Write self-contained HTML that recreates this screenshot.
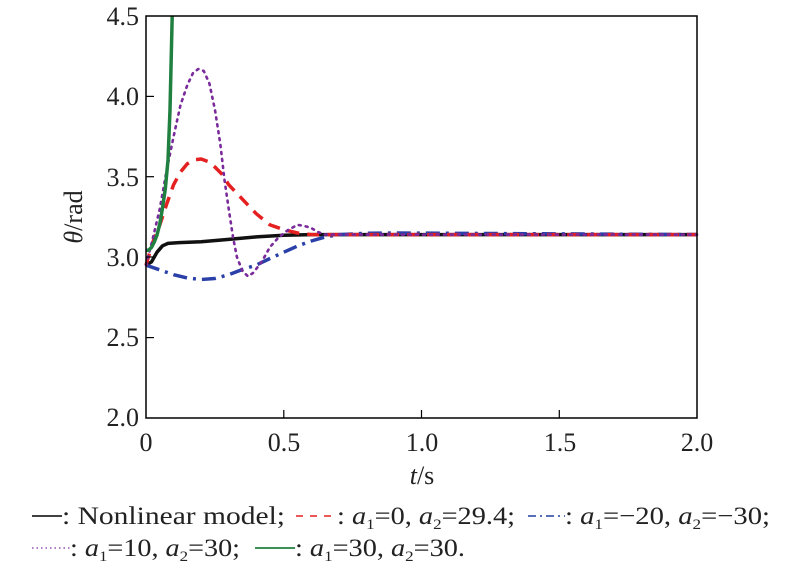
<!DOCTYPE html>
<html><head><meta charset="utf-8"><style>
body{margin:0;background:#fff;}
svg{display:block;font-family:"Liberation Serif",serif;}
</style></head><body>
<svg width="800" height="569" viewBox="0 0 800 569">
<rect width="800" height="569" fill="#fff"/>
<g fill="none" stroke-linejoin="round">
<polyline stroke="#111" stroke-width="3.5" points="146,265.1 151.5,261.9 157,252.2 162.5,245.8 168,243.4 179.1,242.6 201.1,241.8 228.7,239.4 256.2,236.9 283.8,235.3 311.3,234.6 697,234.6"/>
<polyline stroke="#2a40a8" stroke-width="3.5" stroke-dasharray="14,6,3,6" points="146,265.1 159.8,269.9 173.6,274.7 187.3,278 201.1,279.5 214.9,278.5 228.7,274.7 242.4,269.5 256.2,265.1 270,258.5 283.8,252.2 297.5,246 311.3,241 325.1,237 338.9,234.6 366.4,233.3 393.9,233 697,234.6"/>
<polyline stroke="#e52020" stroke-width="3.5" stroke-dasharray="12,8" points="146,265.1 152.9,242 159.8,224.9 166.7,204 173.6,184.7 180.5,172 187.3,163.8 194.2,159.8 201.1,159 208,161.5 214.9,167 221.8,174 228.7,184.7 242.4,199.2 256.2,213.7 270,224.9 283.8,229.7 297.5,233 311.3,234.6 697,234.6"/>
<polyline stroke="#7a2a9a" stroke-width="2.6" stroke-dasharray="2,5" stroke-linecap="round" points="146,265.1 152.9,238 159.8,208.8 166.7,170 173.6,136.5 180.5,105 187.3,85.1 193,73 198.3,69 203.8,71 209.4,83.5 215,110 220.4,144.6 224.5,180 228.7,208.8 233,237 236.9,257 242.4,271 247.9,276.3 253,273 261.7,261.9 270,247 278.2,237.8 288,230 297.5,224.9 304,225.8 311.3,228.1 318,232 325.1,234.6 697,234.6"/>
<polyline stroke="#208040" stroke-width="3.5" points="146,250.6 148.8,250 151.5,247.4 154.3,242 157,235 159.8,224 162.5,208 165.3,189 168,160 170,110 172.2,16"/>
</g>
<rect x="146" y="16" width="551" height="402" fill="none" stroke="#000" stroke-width="1.5"/>
<g stroke="#000" stroke-width="1.2">
<line x1="283.8" y1="418" x2="283.8" y2="410"/><line x1="421.5" y1="418" x2="421.5" y2="410"/><line x1="559.3" y1="418" x2="559.3" y2="410"/>
<line x1="146" y1="96.4" x2="154" y2="96.4"/><line x1="146" y1="176.7" x2="154" y2="176.7"/><line x1="146" y1="257" x2="154" y2="257"/><line x1="146" y1="337.6" x2="154" y2="337.6"/>
</g>
<g font-size="26" fill="#222" text-anchor="end">
<text x="139" y="25">4.5</text><text x="139" y="105">4.0</text><text x="139" y="186">3.5</text><text x="139" y="266">3.0</text><text x="139" y="346">2.5</text><text x="139" y="426">2.0</text>
</g>
<g font-size="26" fill="#222" text-anchor="middle">
<text x="146" y="451">0</text><text x="284" y="451">0.5</text><text x="422" y="451">1.0</text><text x="560" y="451">1.5</text><text x="697" y="451">2.0</text>
<text x="422" y="484"><tspan font-style="italic">t</tspan>/s</text>
</g>
<text transform="translate(82,217) rotate(-90)" font-size="26" fill="#222" text-anchor="middle"><tspan font-style="italic">θ</tspan>/rad</text>
<g font-size="25" fill="#222">
<line x1="32" y1="516" x2="62" y2="516" stroke="#000" stroke-width="1.5"/>
<text x="62" y="524" textLength="223" lengthAdjust="spacingAndGlyphs">: Nonlinear model;</text>
<line x1="296" y1="516" x2="332" y2="516" stroke="#e52020" stroke-width="1.5" stroke-dasharray="7,7"/>
<text x="337" y="524" textLength="178" lengthAdjust="spacingAndGlyphs">: <tspan font-style="italic">a</tspan><tspan font-size="15" dy="5">1</tspan><tspan dy="-5">=0, </tspan><tspan font-style="italic">a</tspan><tspan font-size="15" dy="5">2</tspan><tspan dy="-5">=29.4;</tspan></text>
<line x1="528" y1="516" x2="565" y2="516" stroke="#2040a0" stroke-width="1.5" stroke-dasharray="8,4,2,4"/>
<text x="565" y="524" textLength="205" lengthAdjust="spacingAndGlyphs">: <tspan font-style="italic">a</tspan><tspan font-size="15" dy="5">1</tspan><tspan dy="-5">=−20, </tspan><tspan font-style="italic">a</tspan><tspan font-size="15" dy="5">2</tspan><tspan dy="-5">=−30;</tspan></text>
<line x1="32" y1="548" x2="70" y2="548" stroke="#8030a0" stroke-width="1.2" stroke-dasharray="1.5,3"/>
<text x="70" y="556" textLength="170" lengthAdjust="spacingAndGlyphs">: <tspan font-style="italic">a</tspan><tspan font-size="15" dy="5">1</tspan><tspan dy="-5">=10, </tspan><tspan font-style="italic">a</tspan><tspan font-size="15" dy="5">2</tspan><tspan dy="-5">=30;</tspan></text>
<line x1="255" y1="548" x2="295" y2="548" stroke="#208040" stroke-width="1.8"/>
<text x="295" y="556" textLength="170" lengthAdjust="spacingAndGlyphs">: <tspan font-style="italic">a</tspan><tspan font-size="15" dy="5">1</tspan><tspan dy="-5">=30, </tspan><tspan font-style="italic">a</tspan><tspan font-size="15" dy="5">2</tspan><tspan dy="-5">=30.</tspan></text>
</g>
</svg>
</body></html>
